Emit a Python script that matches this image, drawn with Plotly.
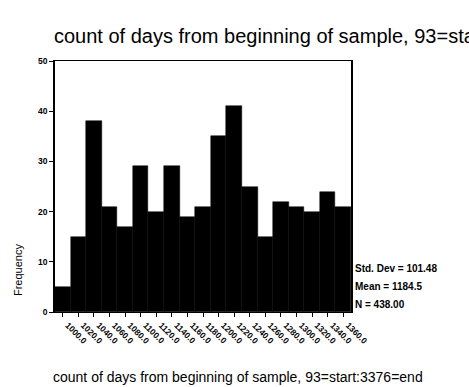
import plotly.graph_objects as go

bin_centers = [1000, 1020, 1040, 1060, 1080, 1100, 1120, 1140, 1160, 1180,
               1200, 1220, 1240, 1260, 1280, 1300, 1320, 1340, 1360]
counts = [5, 15, 38, 21, 17, 29, 20, 29, 19, 21, 35, 41, 25, 15, 22, 21, 20, 24, 21]
tick_labels = [f"{v}.0" for v in bin_centers]
y_ticks = [0, 10, 20, 30, 40, 50]
stats_lines = ["Std. Dev = 101.48", "Mean = 1184.5", "N = 438.00"]
title_text = "count of days from beginning of sample, 93=start:3376=end"

FONT = "Liberation Sans, Arial, Helvetica, sans-serif"

fig = go.Figure()
fig.add_trace(go.Bar(
    x=bin_centers, y=counts, width=20,
    marker=dict(color="black", line=dict(color="black", width=0.5)),
    showlegend=False,
))

fig.update_layout(
    width=469, height=387,
    margin=dict(l=55, r=118, t=61, b=75),
    paper_bgcolor="white", plot_bgcolor="white",
    bargap=0,
    font=dict(family=FONT, color="black"),
)

fig.update_xaxes(
    range=[990, 1370],
    tickvals=bin_centers, ticktext=tick_labels,
    tickangle=45,
    tickfont=dict(size=8.5, family=FONT, weight="bold"),
    ticks="outside", ticklen=4, tickcolor="black",
    ticklabelshift=5,
    showline=True, linecolor="black", linewidth=1, mirror=True,
    showgrid=False, zeroline=False,
)
fig.update_yaxes(
    range=[0, 50],
    tickvals=y_ticks,
    tickfont=dict(size=8.5, family=FONT, weight="bold"),
    ticks="outside", ticklen=4, tickcolor="black",
    showline=True, linecolor="black", linewidth=1.5, mirror=True,
    showgrid=False, zeroline=False,
)

# Title (long, runs off the right edge as in the reference)
fig.add_annotation(
    text=title_text,
    xref="paper", yref="paper", x=0, xshift=-3, y=1.0, yshift=12,
    xanchor="left", yanchor="bottom",
    showarrow=False, font=dict(size=20, family=FONT),
)

# x-axis title
fig.add_annotation(
    text=title_text,
    xref="paper", yref="paper", x=0.617, y=0, yshift=-65,
    xanchor="center", yanchor="middle",
    showarrow=False, font=dict(size=14, family=FONT),
)

# y-axis title
fig.add_annotation(
    text="Frequency", textangle=-90,
    xref="paper", yref="paper", x=0, xshift=-37, y=0.167,
    xanchor="center", yanchor="middle",
    showarrow=False, font=dict(size=11, family=FONT),
)

# stats box
for i, line in enumerate(stats_lines):
    fig.add_annotation(
        text=line, xref="paper", yref="paper",
        x=1.0, xshift=2, y=0.172 - i * 0.072,
        xanchor="left", yanchor="middle",
        showarrow=False, font=dict(size=10, family=FONT, weight="bold"),
    )

fig.write_html("out.html")
